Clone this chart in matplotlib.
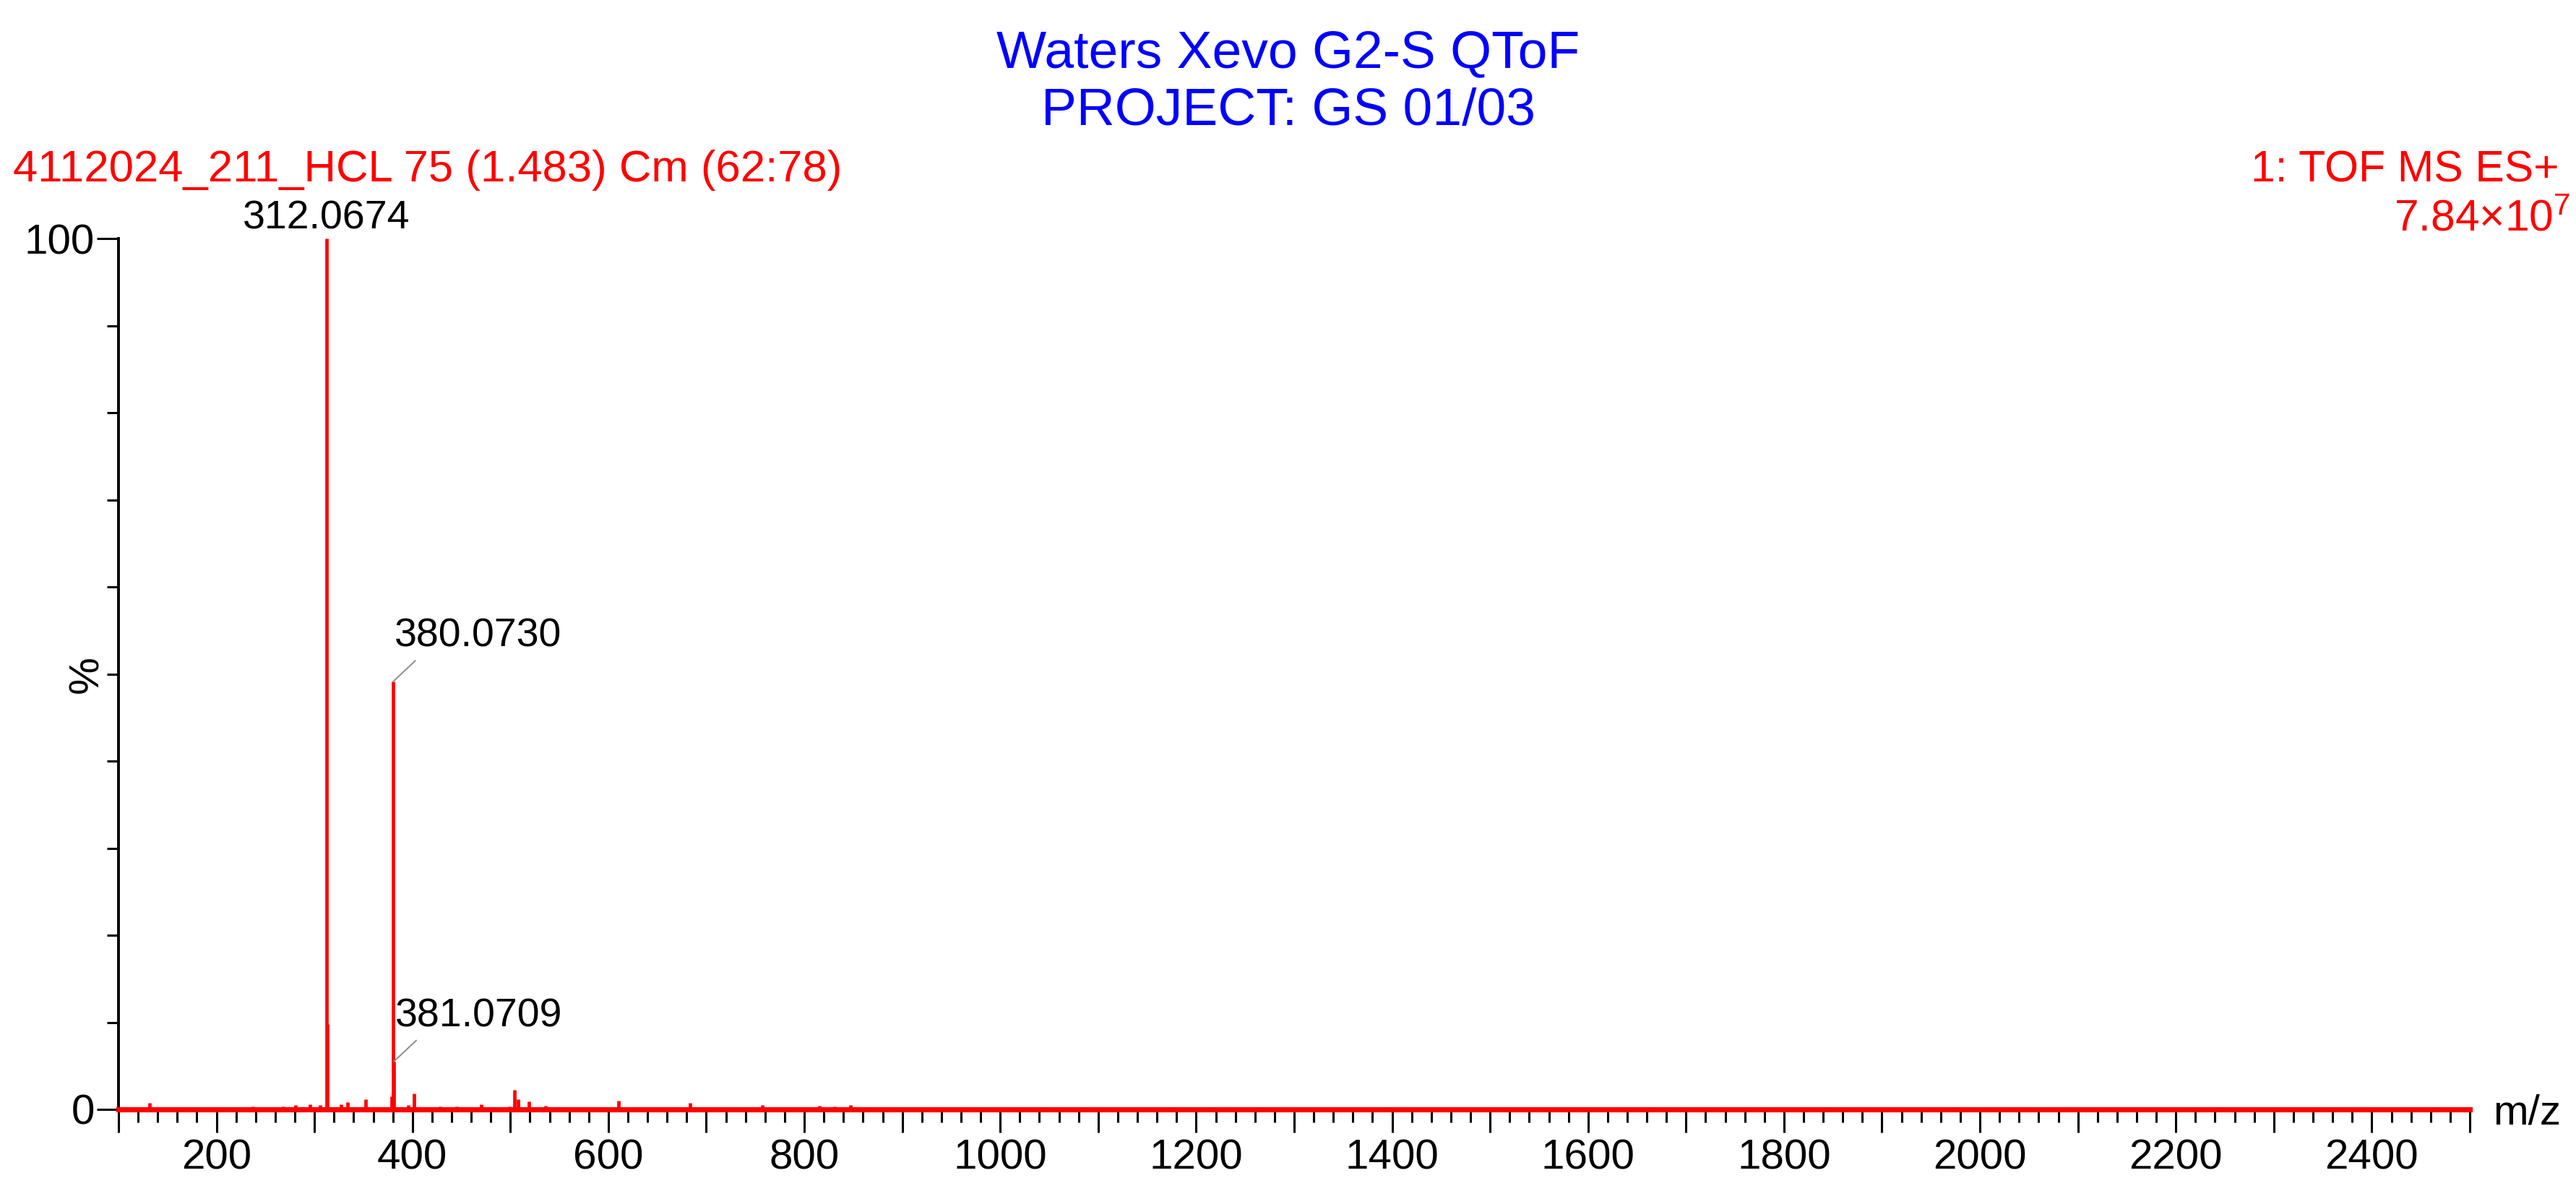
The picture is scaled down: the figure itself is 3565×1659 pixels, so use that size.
import matplotlib
matplotlib.use("Agg")
import matplotlib.pyplot as plt
from matplotlib.ticker import MultipleLocator, FuncFormatter, FixedLocator

plt.rcParams['font.family'] = ['Liberation Sans', 'DejaVu Sans']
plt.rcParams['mathtext.fontset'] = 'custom'
plt.rcParams['mathtext.rm'] = 'Liberation Sans'
plt.rcParams['mathtext.default'] = 'regular'

# ---------------- data ----------------
title_lines = ["Waters Xevo G2-S QToF", "PROJECT: GS 01/03"]
sample_label = "4112024_211_HCL 75 (1.483) Cm (62:78)"
func_label = "1: TOF MS ES+"
scale_label = r"7.84×10$^{7}$"

mz = [131.5, 150, 175, 209, 223, 237, 253, 268, 281, 295.5, 306,
      312.0674, 313.07, 327, 334, 352.5, 379, 380.0730, 381.0709,
      395.5, 402, 413, 428.5, 437, 445, 458, 470, 490, 499, 504.4,
      508, 519, 536, 548, 575, 595, 610.5, 627, 652, 683.5, 700, 728,
      757.5, 790, 815.5, 831, 847.5, 864, 871, 906, 944, 981, 1015,
      1049, 1055]
intensity = [0.75, 0.2, 0.15, 0.2, 0.2, 0.35, 0.15, 0.35, 0.5, 0.6, 0.5,
             100.0, 9.8, 0.6, 0.8, 1.2, 1.5, 49.1, 5.5,
             0.5, 1.8, 0.2, 0.35, 0.2, 0.35, 0.2, 0.6, 0.2, 0.3, 2.2,
             1.2, 0.9, 0.4, 0.2, 0.15, 0.2, 1.0, 0.2, 0.15, 0.75, 0.15, 0.1,
             0.5, 0.1, 0.45, 0.3, 0.5, 0.2, 0.2, 0.15, 0.1, 0.15, 0.15,
             0.1, 0.1]

labeled_mz = [312.0674, 380.0730, 381.0709]
labeled_int = [100.0, 49.1, 5.5]
labeled_txt = ["312.0674", "380.0730", "381.0709"]

x_range = [100, 2500]
y_range = [0, 100]

# ---------------- figure ----------------
W, H, DPI = 3566, 1659, 200
fig = plt.figure(figsize=(W / DPI, H / DPI), dpi=DPI)
L, R, T, B = 164, 3418, 330, 1535
ax = fig.add_axes([L / W, 1 - B / H, (R - L) / W, (B - T) / H])

RED = '#ff0000'
ax.vlines(mz, 0, intensity, colors=RED, lw=1.7, zorder=3, clip_on=False)
ax.axhline(0, color=RED, lw=2.6, zorder=3, clip_on=False)

ax.set_xlim(*x_range)
ax.set_ylim(*y_range)

for s in ['top', 'right']:
    ax.spines[s].set_visible(False)
ax.spines['left'].set_linewidth(1.4)
ax.spines['bottom'].set_linewidth(1.4)

ax.xaxis.set_major_locator(MultipleLocator(100))
ax.xaxis.set_minor_locator(MultipleLocator(20))
ax.xaxis.set_major_formatter(FuncFormatter(lambda v, p: f"{int(round(v))}" if int(round(v)) % 200 == 0 else ""))
ax.yaxis.set_major_locator(FixedLocator([0, 100]))
ax.yaxis.set_minor_locator(MultipleLocator(10))

ax.tick_params(axis='x', which='major', length=11.5, width=1.1, pad=3, labelsize=21, direction='out')
ax.tick_params(axis='x', which='minor', length=6.5, width=1.1, direction='out')
ax.tick_params(axis='y', which='major', length=10.8, width=1.1, pad=1, labelsize=21, direction='out')
ax.tick_params(axis='y', which='minor', length=5.8, width=1.1, direction='out')

# peak labels
ax.annotate(labeled_txt[0], xy=(labeled_mz[0], labeled_int[0]), xytext=(0, 4.7),
            textcoords='offset points', ha='center', va='baseline', fontsize=20,
            annotation_clip=False)
for i in (1, 2):
    ax.annotate(labeled_txt[i], xy=(labeled_mz[i], labeled_int[i]), xytext=(0.7, 17.5),
                textcoords='offset points', ha='left', va='baseline', fontsize=20,
                annotation_clip=False,
                arrowprops=dict(arrowstyle='-', color='#8c8c8c', lw=0.7,
                                shrinkA=1, shrinkB=0, relpos=(0.16, 0.0)))

# header texts
fig.text(0.5, 1 - 93 / H, title_lines[0], color='#0000ff', fontsize=26.4, ha='center', va='baseline')
fig.text(0.5, 1 - 173 / H, title_lines[1], color='#0000ff', fontsize=26.4, ha='center', va='baseline')
fig.text(18 / W, 1 - 251 / H, sample_label, color=RED, fontsize=22.2, ha='left', va='baseline')
fig.text(3542 / W, 1 - 252 / H, func_label, color=RED, fontsize=21.8, ha='right', va='baseline')
fig.text(3557 / W, 1 - 320 / H, scale_label, color=RED, fontsize=21.8, ha='right', va='baseline')

fig.text(120 / W, 1 - 933 / H, "%", rotation=90, fontsize=21, ha='center', va='center')
fig.text(3450 / W, 1 - 1540 / H, "m/z", fontsize=21, ha='left', va='center')

fig.savefig("out.png", dpi=DPI, facecolor='white')
